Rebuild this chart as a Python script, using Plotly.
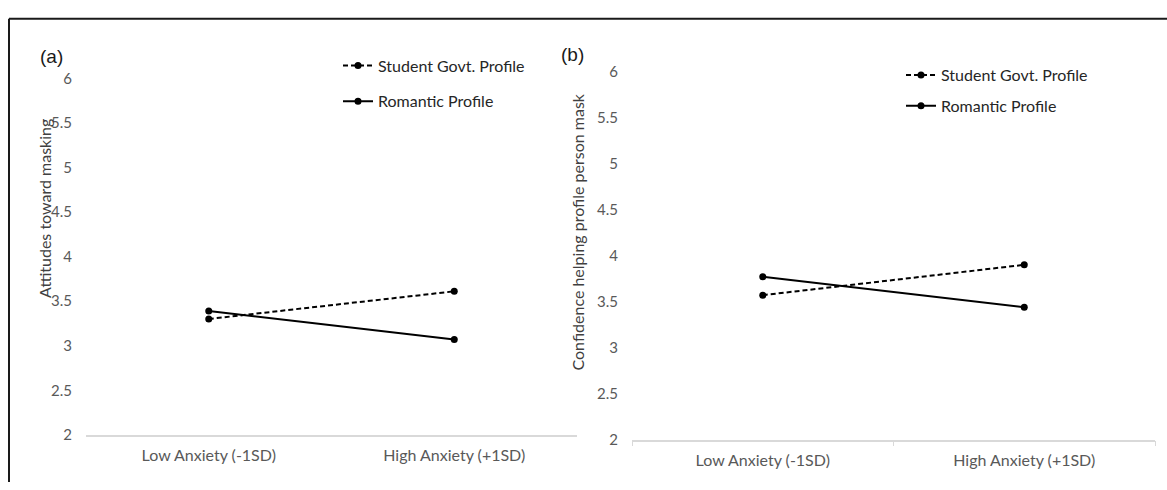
import plotly.graph_objects as go

W, H = 1167, 490

categories = ["Low Anxiety (-1SD)", "High Anxiety (+1SD)"]
series_names = ["Student Govt. Profile", "Romantic Profile"]

# Panel (a): Attitudes toward masking
a_student = [3.30, 3.61]
a_romantic = [3.39, 3.07]
# Panel (b): Confidence helping profile person mask
b_student = [3.57, 3.90]
b_romantic = [3.77, 3.44]

y_ticks = [2, 2.5, 3, 3.5, 4, 4.5, 5, 5.5, 6]
y_tick_text = ["2", "2.5", "3", "3.5", "4", "4.5", "5", "5.5", "6"]

FONT = "Lato"
TXT = "#404040"
TICK = "#595959"

def px(x):
    return x / W

def py(y):
    return 1 - y / H

fig = go.Figure()

def add_panel(xa, ya, student, romantic, legend):
    fig.add_trace(go.Scatter(
        x=categories, y=student, name=series_names[0], mode="lines+markers",
        line=dict(color="black", width=2, dash="5px,3px"),
        marker=dict(color="black", size=7),
        xaxis=xa, yaxis=ya, legend=legend, legendgroup=legend + "s",
    ))
    fig.add_trace(go.Scatter(
        x=categories, y=romantic, name=series_names[1], mode="lines+markers",
        line=dict(color="black", width=2),
        marker=dict(color="black", size=7),
        xaxis=xa, yaxis=ya, legend=legend, legendgroup=legend + "r",
    ))

add_panel("x", "y", a_student, a_romantic, "legend")
add_panel("x2", "y2", b_student, b_romantic, "legend2")

xcommon = dict(
    type="category", range=[-0.5, 1.5], showgrid=False, zeroline=False,
    showline=True, linecolor="#d9d9d9", linewidth=1.5,
    tickfont=dict(family=FONT, size=16, color=TICK),
    ticklabelstandoff=5, fixedrange=True,
)
ycommon = dict(
    range=[2, 6], showgrid=False, zeroline=False, showline=False,
    tickvals=y_ticks, ticktext=y_tick_text, ticks="",
    tickfont=dict(family=FONT, size=15, color=TICK),
    ticklabelstandoff=13, fixedrange=True,
)

legcommon = dict(
    bgcolor="rgba(0,0,0,0)", borderwidth=0,
    font=dict(family=FONT, size=16, color="#262626"),
    traceorder="grouped", xanchor="left", yanchor="top",
)

fig.update_layout(
    width=W, height=H, autosize=False,
    margin=dict(l=0, r=0, t=0, b=0),
    paper_bgcolor="white", plot_bgcolor="white",
    showlegend=True,
    xaxis=dict(domain=[px(86), px(577)], anchor="y", ticks="", **xcommon),
    xaxis2=dict(domain=[px(632), px(1155)], anchor="y2", ticks="outside",
                tickson="boundaries", ticklen=5, tickcolor="#d9d9d9", **xcommon),
    yaxis=dict(domain=[py(441), py(71)], anchor="x", **ycommon),
    yaxis2=dict(domain=[py(446), py(64)], anchor="x2", **ycommon),
    legend=dict(x=px(338), y=py(40), tracegroupgap=12, **legcommon),
    legend2=dict(x=px(901), y=py(50), tracegroupgap=7, **legcommon),
    annotations=[
        dict(text="(a)", x=px(38), y=py(35), xref="paper", yref="paper",
             showarrow=False, font=dict(family="Liberation Sans", size=19, color="#1a1a1a")),
        dict(text="(b)", x=px(572), y=py(33), xref="paper", yref="paper",
             showarrow=False, font=dict(family="Liberation Sans", size=19, color="#1a1a1a")),
        dict(text="Attitudes toward masking", x=px(33), y=py(206), xref="paper", yref="paper",
             textangle=-90, showarrow=False, font=dict(family=FONT, size=16, color=TXT)),
        dict(text="Confidence helping profile person mask", x=px(578), y=py(231),
             xref="paper", yref="paper", textangle=-90, showarrow=False,
             font=dict(family=FONT, size=16, color=TXT)),
    ],
    shapes=[
        dict(type="line", xref="paper", yref="paper", x0=px(9), x1=1.0, y0=py(9), y1=py(9),
             line=dict(color="#1a1a1a", width=2)),
        dict(type="line", xref="paper", yref="paper", x0=px(9), x1=px(9), y0=py(9), y1=0,
             line=dict(color="#1a1a1a", width=2)),
    ],
)

fig.write_html(
    "out.html",
    config={"displayModeBar": False},
    post_script="document.body.style.margin='0';document.body.style.overflow='hidden';",
)
